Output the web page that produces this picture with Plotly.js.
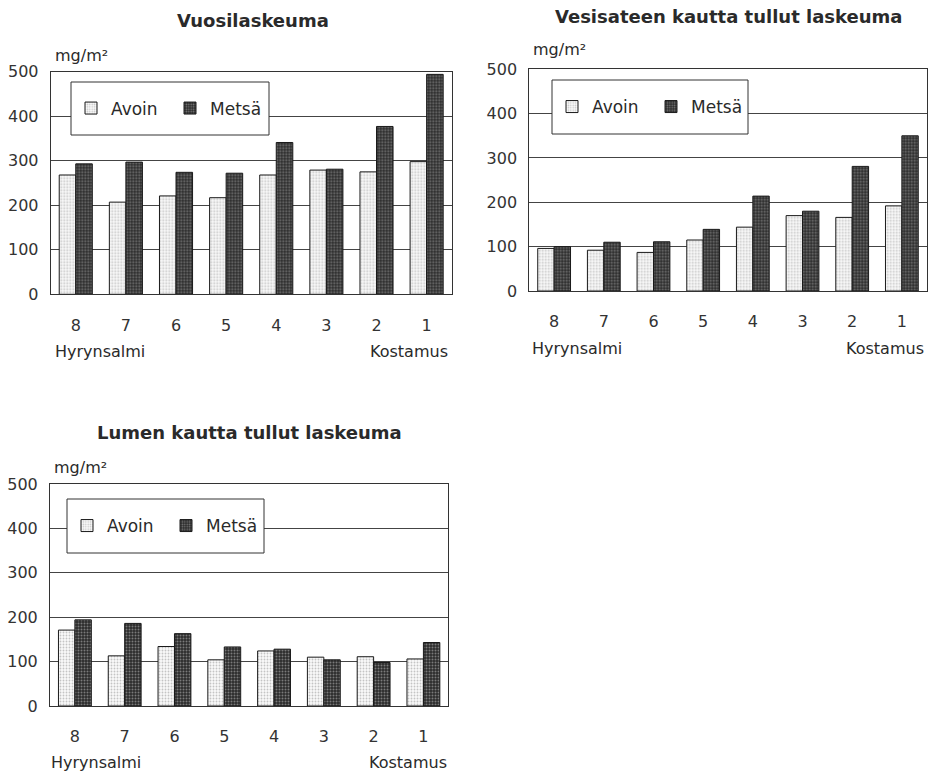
<!DOCTYPE html>
<html>
<head>
<meta charset="utf-8">
<script src="https://cdn.plot.ly/plotly-3.0.1.min.js"></script>
<style>html,body{margin:0;padding:0;background:#fff;}#chart{width:932px;height:773px;}</style>
</head>
<body>
<div id="chart"></div>
<script>
// ---- data (mg/m²) ----
const stations = ['8', '7', '6', '5', '4', '3', '2', '1'];
const seriesNames = ['Avoin', 'Metsä'];
const vuosiAvoin = [268, 207, 221, 217, 268, 279, 275, 298];
const vuosiMetsa = [293, 297, 274, 272, 341, 281, 377, 494];
const vesiAvoin = [96, 92, 87, 115, 144, 170, 166, 192];
const vesiMetsa = [100, 110, 111, 139, 214, 180, 281, 350];
const lumiAvoin = [171, 113, 134, 104, 124, 110, 111, 106];
const lumiMetsa = [194, 186, 163, 133, 128, 104, 98, 143];
const titles = ['Vuosilaskeuma', 'Vesisateen kautta tullut laskeuma', 'Lumen kautta tullut laskeuma'];
const unitLabel = 'mg/m²';
const leftEnd = 'Hyrynsalmi';
const rightEnd = 'Kostamus';

const FONT = 'DejaVu Sans, sans-serif';
const W = 932, H = 773;
const px = v => v / W;
const py = v => 1 - v / H;

const avoinMarker = {
  color: '#f0f0f0',
  line: {color: '#1a1a1a', width: 1},
  pattern: {shape: '.', fgcolor: '#c4c4c4', bgcolor: '#fafafa', size: 3, solidity: 0.3}
};
const metsaMarker = {
  color: '#3a3a3a',
  line: {color: '#1a1a1a', width: 1},
  pattern: {shape: '.', fgcolor: '#7a7a7a', bgcolor: '#2c2c2c', size: 3, solidity: 0.35}
};

const panels = [
  {a: vuosiAvoin, m: vuosiMetsa, xa: 'x', ya: 'y', lg: 'legend',
   dx: [50.7, 451.7], dy: [71.7, 294.3], box: [71, 82, 269, 135]},
  {a: vesiAvoin, m: vesiMetsa, xa: 'x2', ya: 'y2', lg: 'legend2',
   dx: [529.3, 926.7], dy: [69.3, 291], box: [552, 80, 748, 134]},
  {a: lumiAvoin, m: lumiMetsa, xa: 'x3', ya: 'y3', lg: 'legend3',
   dx: [50, 448.3], dy: [484, 706], box: [67, 499, 264, 553]}
];

const traces = [];
panels.forEach(p => {
  traces.push({type: 'bar', x: stations, y: p.a, name: seriesNames[0], xaxis: p.xa, yaxis: p.ya,
    legend: p.lg, marker: avoinMarker, hoverinfo: 'y'});
  traces.push({type: 'bar', x: stations, y: p.m, name: seriesNames[1], xaxis: p.xa, yaxis: p.ya,
    legend: p.lg, marker: metsaMarker, hoverinfo: 'y'});
});

const layout = {
  width: W, height: H, autosize: false,
  margin: {l: 0, r: 0, t: 0, b: 0},
  paper_bgcolor: '#fff', plot_bgcolor: '#fff',
  font: {family: FONT, color: '#2a2a2a', size: 15},
  barmode: 'group', bargap: 0.34, bargroupgap: 0,
  showlegend: true,
  annotations: [],
  shapes: []
};

panels.forEach((p, i) => {
  const sfx = i === 0 ? '' : String(i + 1);
  layout['xaxis' + sfx] = {
    domain: [px(p.dx[0]), px(p.dx[1])], anchor: 'y' + sfx, type: 'category',
    showline: true, linecolor: '#333', linewidth: 1, mirror: true,
    showgrid: false, ticks: '', ticklabelstandoff: 16,
    tickfont: {family: FONT, size: 16, color: '#333'}, fixedrange: true
  };
  layout['yaxis' + sfx] = {
    domain: [py(p.dy[1]), py(p.dy[0])], anchor: 'x' + sfx,
    range: [0, 500], dtick: 100, tick0: 0,
    showline: true, linecolor: '#333', linewidth: 1, mirror: true,
    showgrid: true, gridcolor: '#444', gridwidth: 1, zeroline: false,
    ticks: '', ticklabelstandoff: 8,
    tickfont: {family: FONT, size: 16, color: '#333'}, fixedrange: true
  };
  // legend box
  layout.shapes.push({type: 'rect', xref: 'paper', yref: 'paper',
    x0: px(p.box[0]), x1: px(p.box[2]), y0: py(p.box[3]), y1: py(p.box[1]),
    fillcolor: '#fff', line: {color: '#333', width: 1}, layer: 'above'});
  layout[p.lg] = {
    x: px(p.box[0]), y: py((p.box[1] + p.box[3]) / 2), xanchor: 'left', yanchor: 'middle',
    orientation: 'h', bgcolor: 'rgba(0,0,0,0)', borderwidth: 0,
    font: {family: FONT, size: 17, color: '#2a2a2a'}, itemwidth: 30, entrywidth: 54,
    traceorder: 'normal'
  };
});

// titles and labels
const textSpecs = [
  {t: titles[0], x: 253, y: 20, xa: 'center', bold: true},
  {t: titles[1], x: 728, y: 17, xa: 'center', bold: true},
  {t: titles[2], x: 249, y: 432, xa: 'center', bold: true},
  {t: unitLabel, x: 53, y: 55, xa: 'left'},
  {t: unitLabel, x: 531, y: 50, xa: 'left'},
  {t: unitLabel, x: 52, y: 468, xa: 'left'},
  {t: leftEnd, x: 53, y: 351, xa: 'left'},
  {t: rightEnd, x: 450, y: 351, xa: 'right'},
  {t: leftEnd, x: 530, y: 348, xa: 'left'},
  {t: rightEnd, x: 926, y: 348, xa: 'right'},
  {t: leftEnd, x: 49, y: 762, xa: 'left'},
  {t: rightEnd, x: 449, y: 762, xa: 'right'}
];
textSpecs.forEach(s => {
  layout.annotations.push({
    text: s.bold ? '<b>' + s.t + '</b>' : s.t,
    xref: 'paper', yref: 'paper', x: px(s.x), y: py(s.y),
    xanchor: s.xa, yanchor: 'middle', showarrow: false,
    font: {family: FONT, size: s.bold ? 18 : 16, color: '#2a2a2a'}
  });
});

Plotly.newPlot('chart', traces, layout, {displayModeBar: false, staticPlot: true});
</script>
</body>
</html>
